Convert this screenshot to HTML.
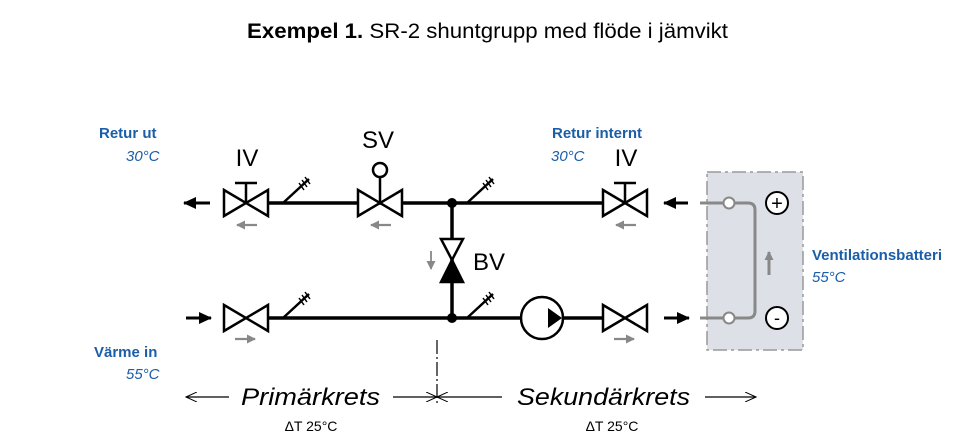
<!DOCTYPE html>
<html><head><meta charset="utf-8"><style>
html,body{margin:0;padding:0;background:#fff;}
svg{display:block;}
text{font-family:"Liberation Sans",sans-serif;}
.b{fill:#1a5ea8;}
</style></head><body>
<svg width="980" height="448" viewBox="0 0 980 448" xmlns="http://www.w3.org/2000/svg">
<defs>
<marker id="ah" markerWidth="13" markerHeight="12" refX="12" refY="6" orient="auto" markerUnits="userSpaceOnUse">
<path d="M0,0 L13,6 L0,12 z" fill="#000"/></marker>
<marker id="ahg" markerWidth="9" markerHeight="9" refX="8" refY="4.5" orient="auto" markerUnits="userSpaceOnUse">
<path d="M0,0 L9,4.5 L0,9 z" fill="#888"/></marker>
<marker id="ta" markerWidth="12" markerHeight="10" refX="11" refY="5" orient="auto" markerUnits="userSpaceOnUse">
<path d="M0,0 L11,5 L0,10" fill="none" stroke="#000" stroke-width="1"/></marker>
<g id="valve"><path d="M-22,-13 L22,13 L22,-13 L-22,13 Z" fill="#fff" stroke="#000" stroke-width="2.5" stroke-linejoin="miter"/></g>
<g id="therm"><line x1="0" y1="0" x2="26" y2="-24" stroke="#000" stroke-width="2.5"/>
<line x1="16" y1="-20" x2="21" y2="-13" stroke="#000" stroke-width="1.5"/>
<line x1="19" y1="-23" x2="24" y2="-16" stroke="#000" stroke-width="1.5"/>
<line x1="22" y1="-26" x2="27" y2="-19" stroke="#000" stroke-width="1.5"/></g>
</defs>

<text x="247" y="38" font-size="21" textLength="481" lengthAdjust="spacingAndGlyphs"><tspan font-weight="bold">Exempel 1.</tspan> SR-2 shuntgrupp med flöde i jämvikt</text>

<rect x="707" y="172" width="96" height="178" fill="#dde1e7" stroke="#999" stroke-width="1.5" stroke-dasharray="14,4,3,4"/>
<path d="M700,203 H748 Q755,203 755,210 V311 Q755,318 748,318 H700" fill="none" stroke="#888" stroke-width="3"/>
<circle cx="729" cy="203" r="5.5" fill="#fff" stroke="#888" stroke-width="2"/>
<circle cx="729" cy="318" r="5.5" fill="#fff" stroke="#888" stroke-width="2"/>
<line x1="769" y1="275" x2="769" y2="252" stroke="#888" stroke-width="3" marker-end="url(#ahg)"/>
<circle cx="777" cy="203" r="11" fill="#fff" stroke="#000" stroke-width="2"/>
<text x="777" y="210" font-size="20" text-anchor="middle">+</text>
<circle cx="777" cy="318" r="11" fill="#fff" stroke="#000" stroke-width="2"/>
<text x="777" y="324" font-size="18" text-anchor="middle">-</text>

<line x1="268" y1="203" x2="603" y2="203" stroke="#000" stroke-width="3.5"/>
<line x1="268" y1="318" x2="603" y2="318" stroke="#000" stroke-width="3.5"/>
<line x1="452" y1="203" x2="452" y2="318" stroke="#000" stroke-width="3.5"/>
<circle cx="452" cy="203" r="5" fill="#000"/>
<circle cx="452" cy="318" r="5" fill="#000"/>

<use href="#valve" x="246" y="203"/>
<line x1="246" y1="183" x2="246" y2="203" stroke="#000" stroke-width="2.5"/>
<line x1="235" y1="183" x2="257" y2="183" stroke="#000" stroke-width="2.5"/>
<use href="#valve" x="380" y="203"/>
<line x1="380" y1="177" x2="380" y2="203" stroke="#000" stroke-width="2.5"/>
<circle cx="380" cy="170" r="7" fill="#fff" stroke="#000" stroke-width="2.5"/>
<use href="#valve" x="625" y="203"/>
<line x1="625" y1="183" x2="625" y2="203" stroke="#000" stroke-width="2.5"/>
<line x1="614" y1="183" x2="636" y2="183" stroke="#000" stroke-width="2.5"/>
<use href="#valve" x="246" y="318"/>
<use href="#valve" x="625" y="318"/>
<path d="M441,239 L463,239 L452,260 Z" fill="#fff" stroke="#000" stroke-width="2.5"/>
<path d="M441,282 L463,282 L452,260 Z" fill="#000" stroke="#000" stroke-width="2.5"/>
<line x1="431" y1="251" x2="431" y2="269" stroke="#888" stroke-width="1.8" marker-end="url(#ahg)"/>
<circle cx="542" cy="318" r="21" fill="#fff" stroke="#000" stroke-width="2.5"/>
<path d="M548,308 L562,318 L548,328 Z" fill="#000"/>

<use href="#therm" x="283" y="203"/>
<use href="#therm" x="467" y="203"/>
<use href="#therm" x="283" y="318"/>
<use href="#therm" x="467" y="318"/>

<line x1="210" y1="203" x2="184" y2="203" stroke="#000" stroke-width="3" marker-end="url(#ah)"/>
<line x1="688" y1="203" x2="664" y2="203" stroke="#000" stroke-width="3" marker-end="url(#ah)"/>
<line x1="186" y1="318" x2="211" y2="318" stroke="#000" stroke-width="3" marker-end="url(#ah)"/>
<line x1="664" y1="318" x2="689" y2="318" stroke="#000" stroke-width="3" marker-end="url(#ah)"/>
<line x1="257" y1="225" x2="237" y2="225" stroke="#888" stroke-width="2.2" marker-end="url(#ahg)"/>
<line x1="391" y1="225" x2="371" y2="225" stroke="#888" stroke-width="2.2" marker-end="url(#ahg)"/>
<line x1="636" y1="225" x2="616" y2="225" stroke="#888" stroke-width="2.2" marker-end="url(#ahg)"/>
<line x1="235" y1="339" x2="255" y2="339" stroke="#888" stroke-width="2.2" marker-end="url(#ahg)"/>
<line x1="614" y1="339" x2="634" y2="339" stroke="#888" stroke-width="2.2" marker-end="url(#ahg)"/>

<text x="247" y="166" font-size="24" text-anchor="middle">IV</text>
<text x="378" y="148" font-size="24" text-anchor="middle">SV</text>
<text x="626" y="166" font-size="24" text-anchor="middle">IV</text>
<text x="473" y="270" font-size="24">BV</text>

<text class="b" x="99" y="138" font-size="15" font-weight="bold">Retur ut</text>
<text class="b" x="126" y="161" font-size="15" font-style="italic">30°C</text>
<text class="b" x="552" y="138" font-size="15" font-weight="bold">Retur internt</text>
<text class="b" x="551" y="161" font-size="15" font-style="italic">30°C</text>
<text class="b" x="94" y="357" font-size="15" font-weight="bold">Värme in</text>
<text class="b" x="126" y="379" font-size="15" font-style="italic">55°C</text>
<text class="b" x="812" y="260" font-size="15" font-weight="bold">Ventilationsbatteri</text>
<text class="b" x="812" y="282" font-size="15" font-style="italic">55°C</text>

<line x1="437" y1="340" x2="437" y2="405" stroke="#000" stroke-width="1.2" stroke-dasharray="14,3,2,3"/>
<line x1="229" y1="397" x2="186" y2="397" stroke="#000" stroke-width="1.2" marker-end="url(#ta)"/>
<line x1="393" y1="397" x2="437" y2="397" stroke="#000" stroke-width="1.2" marker-end="url(#ta)"/>
<line x1="502" y1="397" x2="437" y2="397" stroke="#000" stroke-width="1.2" marker-end="url(#ta)"/>
<line x1="705" y1="397" x2="756" y2="397" stroke="#000" stroke-width="1.2" marker-end="url(#ta)"/>
<text x="241" y="405" font-size="24" font-style="italic" textLength="139" lengthAdjust="spacingAndGlyphs">Primärkrets</text>
<text x="517" y="405" font-size="24" font-style="italic" textLength="173" lengthAdjust="spacingAndGlyphs">Sekundärkrets</text>
<text x="311" y="431" font-size="14" text-anchor="middle">ΔT 25°C</text>
<text x="612" y="431" font-size="14" text-anchor="middle">ΔT 25°C</text>
</svg>
</body></html>
